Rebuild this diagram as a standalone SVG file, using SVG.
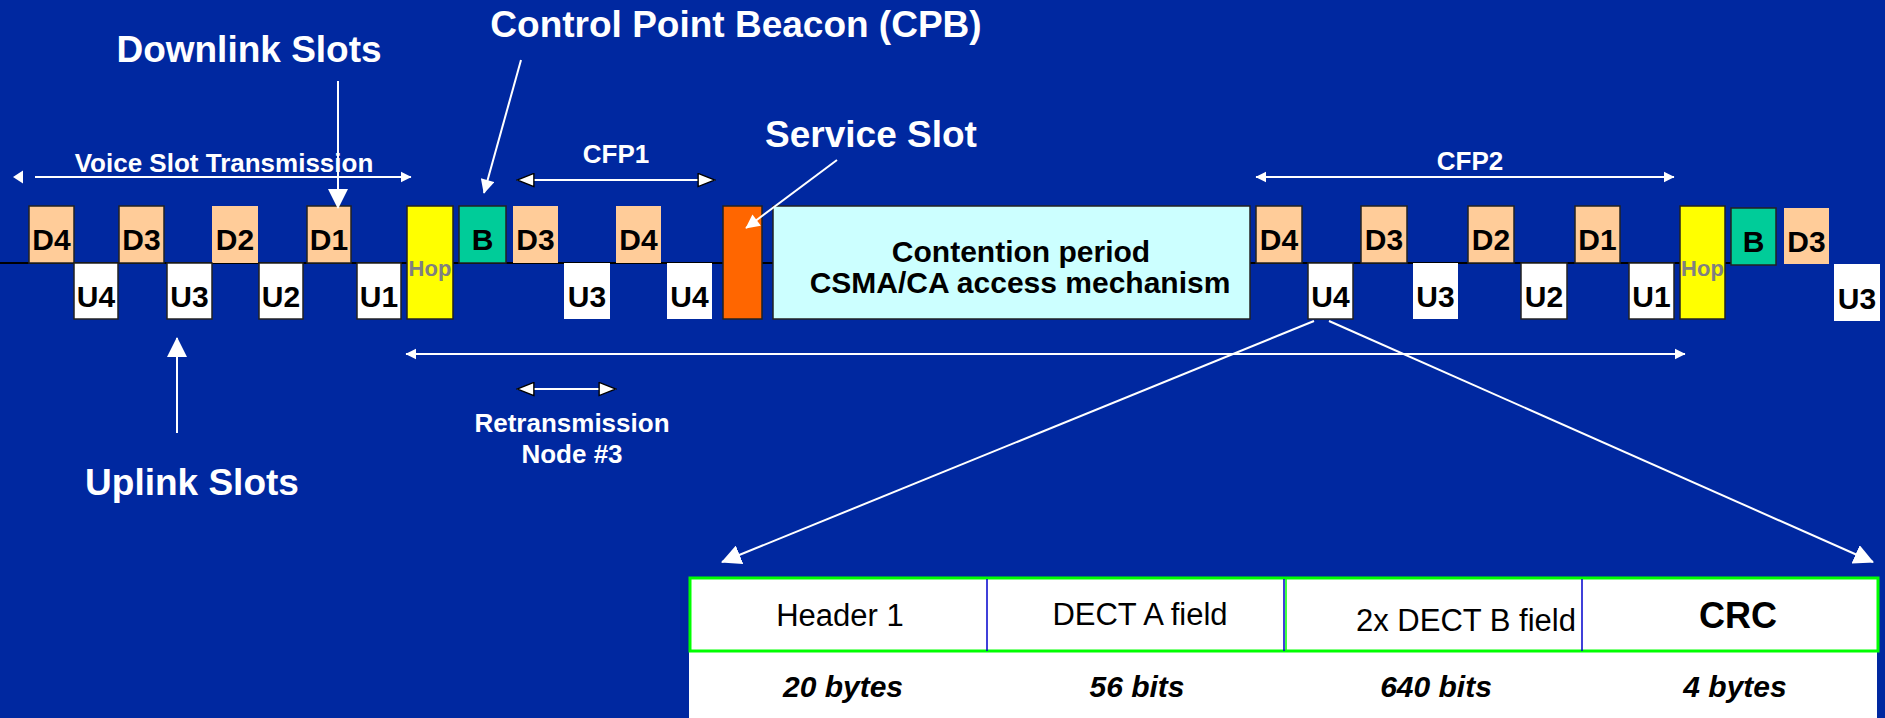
<svg xmlns="http://www.w3.org/2000/svg" width="1885" height="718" viewBox="0 0 1885 718">
<style>
text{font-family:"Liberation Sans",Arial,sans-serif}
.lbl{fill:#fff;font-weight:bold;text-anchor:middle}
.big{font-size:37px}
.mid{font-size:26px}
.slot{font-size:30px;font-weight:bold;text-anchor:middle;fill:#000}
.d{fill:#FFCC99;stroke:#222;stroke-width:1.5}
.dn{fill:#FFCC99}
.u{fill:#fff;stroke:#222;stroke-width:1.5}
.un{fill:#fff}
.hop{fill:#FFFF00;stroke:#222;stroke-width:1.5}
.hopt{font-size:22px;font-weight:bold;fill:#808080;text-anchor:middle}
.b{fill:#00CC99;stroke:#222;stroke-width:1.5}
.w{stroke:#fff;stroke-width:2;fill:none}
.cell{font-size:31px;text-anchor:middle;fill:#000}
.bi{font-size:30px;font-weight:bold;font-style:italic;text-anchor:middle;fill:#000}
</style>
<defs>
<marker id="ah" viewBox="0 0 10 10" refX="9.5" refY="5" markerWidth="20" markerHeight="20" markerUnits="userSpaceOnUse" orient="auto-start-reverse"><path d="M0,0 L10,5 L0,10 z" fill="#fff"/></marker>
<marker id="ahm" viewBox="0 0 10 10" refX="9.5" refY="5" markerWidth="17" markerHeight="14" markerUnits="userSpaceOnUse" orient="auto-start-reverse"><path d="M0,0 L10,5 L0,10 z" fill="#fff"/></marker>
<marker id="ahs" viewBox="0 0 10 10" refX="9.5" refY="5" markerWidth="11" markerHeight="14" markerUnits="userSpaceOnUse" orient="auto-start-reverse"><path d="M0,0 L10,5 L0,10 z" fill="#fff"/></marker>
<marker id="ahh" viewBox="0 0 20 16" refX="19" refY="8" markerWidth="19" markerHeight="15" markerUnits="userSpaceOnUse" orient="auto-start-reverse"><path d="M1,1 L19,8 L1,15 z" fill="#fff" stroke="#000" stroke-width="1.5"/></marker>
</defs>
<rect x="0" y="0" width="1885" height="718" fill="#0028A0"/>

<g id="timeline">
<line x1="0" y1="263" x2="1731" y2="263" stroke="#000" stroke-width="2"/>
</g>

<g id="voice-slots">
<rect class="d" x="29" y="206" width="45" height="57"/><text class="slot" x="51.5" y="250">D4</text>
<rect class="d" x="119" y="206" width="45" height="57"/><text class="slot" x="141.5" y="250">D3</text>
<rect class="dn" x="212" y="206" width="46" height="57"/><text class="slot" x="235" y="250">D2</text>
<rect class="d" x="307" y="206" width="44" height="57"/><text class="slot" x="329" y="250">D1</text>
<rect class="u" x="74" y="263" width="44" height="56"/><text class="slot" x="96" y="307">U4</text>
<rect class="u" x="167" y="263" width="45" height="56"/><text class="slot" x="189.5" y="307">U3</text>
<rect class="u" x="259" y="263" width="44" height="56"/><text class="slot" x="281" y="307">U2</text>
<rect class="u" x="357" y="263" width="44" height="56"/><text class="slot" x="379" y="307">U1</text>
</g>
<g id="hop1"><rect class="hop" x="407" y="206" width="46" height="113"/><text class="hopt" x="430" y="276">Hop</text></g>
<g id="beacon1"><rect class="b" x="459" y="206" width="47" height="57"/><text class="slot" x="482.5" y="250">B</text></g>
<g id="cfp1-slots">
<rect class="dn" x="513" y="206" width="45" height="57"/><text class="slot" x="535.5" y="250">D3</text>
<rect class="dn" x="616" y="206" width="45" height="57"/><text class="slot" x="638.5" y="250">D4</text>
<rect class="un" x="564" y="263" width="46" height="56"/><text class="slot" x="587" y="307">U3</text>
<rect class="un" x="667" y="263" width="45" height="56"/><text class="slot" x="689.5" y="307">U4</text>
</g>
<g id="service-slot"><rect x="723" y="206" width="39" height="113" fill="#FF6600" stroke="#222" stroke-width="1.5"/></g>
<g id="contention">
<rect x="773" y="206" width="477" height="113" fill="#CCFFFF" stroke="#222" stroke-width="1.5"/>
<text x="1021" y="262" font-size="30" font-weight="bold" text-anchor="middle">Contention period</text>
<text x="1020" y="293" font-size="30" font-weight="bold" text-anchor="middle">CSMA/CA access mechanism</text>
</g>
<g id="cfp2-slots">
<rect class="d" x="1256" y="206" width="46" height="57"/><text class="slot" x="1279" y="250">D4</text>
<rect class="u" x="1308" y="263" width="45" height="56"/><text class="slot" x="1330.5" y="307">U4</text>
<rect class="d" x="1361" y="206" width="46" height="57"/><text class="slot" x="1384" y="250">D3</text>
<rect class="un" x="1413" y="263" width="45" height="56"/><text class="slot" x="1435.5" y="307">U3</text>
<rect class="d" x="1468" y="206" width="46" height="57"/><text class="slot" x="1491" y="250">D2</text>
<rect class="u" x="1521" y="263" width="46" height="56"/><text class="slot" x="1544" y="307">U2</text>
<rect class="d" x="1575" y="206" width="45" height="57"/><text class="slot" x="1597.5" y="250">D1</text>
<rect class="u" x="1629" y="263" width="45" height="56"/><text class="slot" x="1651.5" y="307">U1</text>
</g>
<g id="hop2"><rect class="hop" x="1680" y="206" width="45" height="113"/><text class="hopt" x="1702.5" y="276">Hop</text></g>
<g id="beacon2"><rect class="b" x="1731" y="208" width="45" height="57"/><text class="slot" x="1753.5" y="252">B</text></g>
<g id="next-slots">
<rect class="dn" x="1784" y="208" width="45" height="56"/><text class="slot" x="1806.5" y="252">D3</text>
<rect class="un" x="1834" y="264" width="46" height="57"/><text class="slot" x="1857" y="309">U3</text>
</g>

<g id="packet">
<rect x="689" y="651" width="1188" height="67" fill="#fff"/>
<rect x="690" y="578" width="1188" height="73" fill="#fff" stroke="#00FF00" stroke-width="3"/>
<line x1="987" y1="579" x2="987" y2="651" stroke="#0000CC" stroke-width="1.5"/>
<line x1="1284" y1="579" x2="1284" y2="651" stroke="#0000CC" stroke-width="1.5"/>
<line x1="1286" y1="579" x2="1286" y2="651" stroke="#00FF00" stroke-width="1.5"/>
<line x1="1582" y1="579" x2="1582" y2="651" stroke="#0000CC" stroke-width="1.5"/>
<text class="cell" x="840" y="626">Header 1</text>
<text class="cell" x="1140" y="625">DECT A field</text>
<text class="cell" x="1466" y="631">2x DECT B field</text>
<text x="1738" y="628" font-size="36" font-weight="bold" text-anchor="middle">CRC</text>
<text class="bi" x="843" y="697">20 bytes</text>
<text class="bi" x="1137" y="697">56 bits</text>
<text class="bi" x="1436" y="697">640 bits</text>
<text class="bi" x="1735" y="697">4 bytes</text>
</g>

<g id="labels">
<text class="lbl big" x="249" y="62">Downlink Slots</text>
<text class="lbl big" x="736" y="37">Control Point Beacon (CPB)</text>
<text class="lbl big" x="871" y="147">Service Slot</text>
<text class="lbl big" x="192" y="495">Uplink Slots</text>
<text class="lbl mid" x="224" y="172">Voice Slot Transmission</text>
<text class="lbl mid" x="616" y="163">CFP1</text>
<text class="lbl mid" x="1470" y="170">CFP2</text>
<text class="lbl mid" x="572" y="432">Retransmission</text>
<text class="lbl mid" x="572" y="463">Node #3</text>
</g>

<g id="connectors">
<line class="w" x1="35" y1="177" x2="411" y2="177" marker-end="url(#ahs)"/>
<polygon points="13,177 23,170.5 23,183.5" fill="#fff"/>
<line class="w" x1="338" y1="81" x2="338" y2="208" marker-end="url(#ah)"/>
<line class="w" x1="177" y1="433" x2="177" y2="338" marker-end="url(#ah)"/>
<line class="w" x1="521" y1="60" x2="484" y2="193" marker-end="url(#ahm)"/>
<line class="w" x1="837" y1="160" x2="746" y2="228" marker-end="url(#ahm)"/>
<line class="w" x1="517" y1="180" x2="715" y2="180" marker-start="url(#ahh)" marker-end="url(#ahh)"/>
<line class="w" x1="1256" y1="177" x2="1674" y2="177" marker-start="url(#ahs)" marker-end="url(#ahs)"/>
<line class="w" x1="406" y1="354" x2="1685" y2="354" marker-start="url(#ahs)" marker-end="url(#ahs)"/>
<line class="w" x1="517" y1="389" x2="616" y2="389" marker-start="url(#ahh)" marker-end="url(#ahh)"/>
<line class="w" x1="1314" y1="321" x2="722" y2="562" marker-end="url(#ah)"/>
<line class="w" x1="1329" y1="321" x2="1873" y2="562" marker-end="url(#ah)"/>
</g>
</svg>
